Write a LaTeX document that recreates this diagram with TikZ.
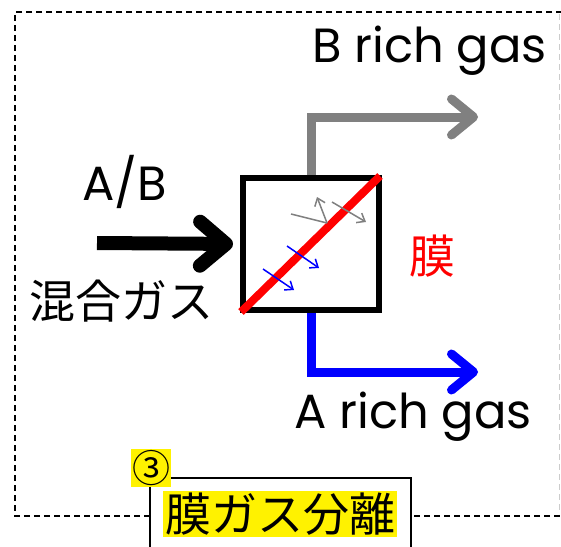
\documentclass[tikz,border=0pt]{standalone}
\usepackage{fontspec}
\setmainfont{Poppins}
\newfontfamily\jpfont{Noto Sans CJK JP}
\usetikzlibrary{arrows.meta,calc}

\tikzset{
  flow/.style={line width=9pt,-{Straight Barb[length=22pt,width=36pt,round]}},
  molarrow/.style={line width=1.5pt,-{Straight Barb[length=7pt,width=11pt]}},
  tag/.style={inner sep=0pt,font=\fontsize{48}{50}\selectfont},
  jptag/.style={inner sep=0pt,font=\jpfont\fontsize{46}{48}\selectfont},
}

\begin{document}
\begin{tikzpicture}[x=1pt,y=-1pt]
\useasboundingbox (0,0) rectangle (561,546);
\clip (0,0) rectangle (561,546);

% frame
\draw[dash pattern=on 6pt off 4pt,line width=1.5pt] (562,12) -- (15,12) -- (15,516) -- (562,516);
\draw[dash pattern=on 6pt off 4pt,line width=1pt,gray!40] (559,14) -- (559,514);

% membrane module
\path (311,244) node[rectangle,draw,line width=6pt,minimum width=136pt,minimum height=132pt,fill=white] (mem) {};
\draw[red,line width=8pt] ($(mem.south west)+(1,-1)$) -- ($(mem.north east)+(-2,1)$);

% molecules
\draw[gray,line width=1.5pt] (291,214) -- (327,223);
\draw[gray,molarrow] (327,223) -- (317,197);
\draw[gray,molarrow] (332,202) -- (366,222);
\draw[blue,molarrow] (287,246) -- (319,268);
\draw[blue,molarrow] (263,269) -- (294,290);

% streams
\coordinate (feed) at (97,243);
\coordinate (bout) at (478,117);
\coordinate (aout) at (478,372);
\draw[line width=14pt,-{Straight Barb[length=26pt,width=44pt,round]},shorten >=7pt] (feed) -- (mem.west);
\draw[gray,flow] (mem.north) |- (bout);
\draw[blue,flow] (mem.south) |- (aout);

% labels
\path (312,62) node[tag,anchor=base west] (blab) {B rich gas};
\path (294,428) node[tag,anchor=base west] (alab) {A rich gas};
\path (82,200) node[tag,anchor=base west] (ablab) {A/B};
\path (121,301) node[jptag] (mix) {混合ガス};
\path (432,256) node[jptag,text=red] (maku) {膜};

% title box
\draw[line width=2pt,fill=white] (150,478) rectangle (411,560);
\path (280,514) node[jptag,fill=yellow,inner sep=2pt] (title) {膜ガス分離};
\path (151,468) node[fill=yellow,inner sep=1pt,font=\jpfont\fontsize{38}{40}\selectfont] (num) {③};
\end{tikzpicture}
\end{document}
